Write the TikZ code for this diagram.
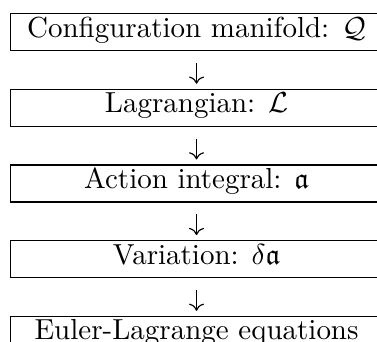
\documentclass[tikz,border=0pt]{standalone}
\usepackage{amsmath,amssymb,amsfonts}
\usepackage{tikz}
\usetikzlibrary{arrows.meta,positioning}

\begin{document}
\begin{tikzpicture}[
    x=0.345pt, y=0.345pt,
    stage/.style={draw, thin, minimum width=128.3pt, minimum height=12.77pt,
                  inner sep=0pt, text height=7pt, text depth=3.6pt},
    flow/.style={-{To}, thin, shorten <=4.1pt, shorten >=1.7pt},
    node distance=12.94pt,
  ]
  \useasboundingbox (0,0) rectangle (377,-342);

  %% Stages
  \node[stage, anchor=north west] (config) at (10,-13)
    {Configuration manifold: $\mathcal{Q}$};
  \node[stage, below=of config] (lagr) {Lagrangian: $\mathcal{L}$};
  \node[stage, below=of lagr] (action) {Action integral: $\mathfrak{a}$};
  \node[stage, below=of action] (var) {Variation: $\delta\mathfrak{a}$};
  \node[stage, below=of var] (euler) {Euler-Lagrange equations};

  %% Arrows
  \foreach \a/\b in {config/lagr, lagr/action, action/var, var/euler}
    \draw[flow] (\a) -- (\b);
\end{tikzpicture}
\end{document}
